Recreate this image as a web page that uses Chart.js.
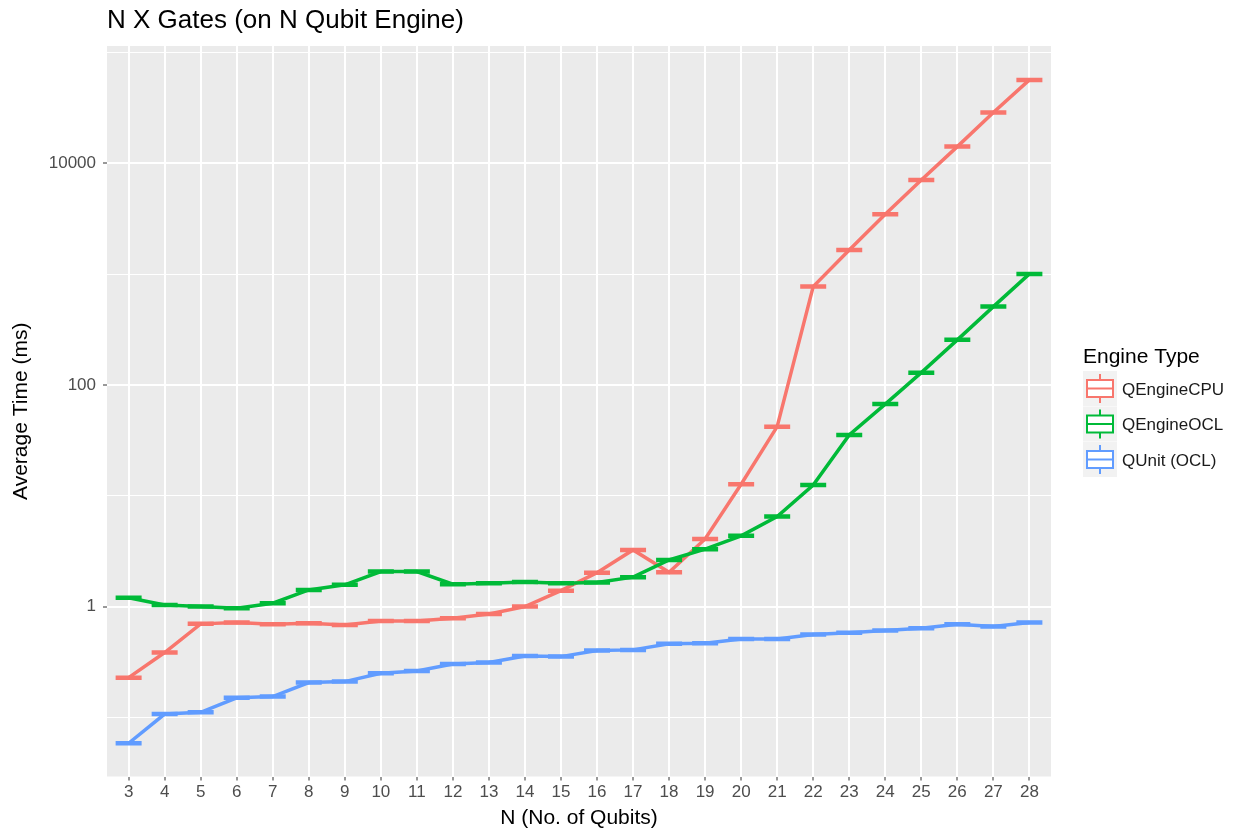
<!DOCTYPE html>
<html lang="en">
<head>
    <meta charset="UTF-8">
    <title>N X Gates (on N Qubit Engine)</title>
    <style>
        html, body { margin: 0; padding: 0; background: #ffffff; }
        #chartBox { width: 1241px; height: 833px; }
    </style>
</head>
<body>

<div id="chartBox">
    <canvas id="myChart" width="1241" height="833"></canvas>
</div>

<script src="https://cdn.jsdelivr.net/npm/chart.js@4/dist/chart.umd.min.js"></script>
<script>
    // qubit counts on the x axis
    var qubits = [3, 4, 5, 6, 7, 8, 9, 10, 11, 12, 13, 14, 15, 16, 17, 18, 19, 20, 21, 22, 23, 24, 25, 26, 27, 28];

    // average time in ms
    var cpuTimes = [0.228, 0.384, 0.697, 0.716, 0.692, 0.707, 0.682, 0.741, 0.741, 0.784, 0.857, 0.998, 1.39,
        2.02, 3.24, 2.04, 4.07, 12.7, 42.0, 771, 1652, 3473, 7080, 14150, 28700, 56600];
    var oclTimes = [1.20, 1.03, 1.0, 0.965, 1.07, 1.41, 1.57, 2.07, 2.07, 1.59, 1.62, 1.66, 1.62,
        1.65, 1.84, 2.63, 3.29, 4.34, 6.48, 12.5, 35.4, 67.1, 129, 255, 509, 1004];
    var qunitTimes = [0.0583, 0.107, 0.111, 0.150, 0.154, 0.206, 0.210, 0.250, 0.262, 0.302, 0.312, 0.358, 0.353,
        0.400, 0.406, 0.460, 0.466, 0.510, 0.510, 0.558, 0.581, 0.606, 0.637, 0.692, 0.659, 0.716];

    var engineNames = ['QEngineCPU', 'QEngineOCL', 'QUnit (OCL)'];
    var engineColors = ['#F8766D', '#00BA38', '#619CFF'];

    // log axis: grid at every decade, labels only on every other one
    var yTicks = [0.1, 1, 10, 100, 1000, 10000, 100000];
    var yLabelled = [1, 100, 10000];

    var FONT = '"Liberation Sans", Arial, Helvetica, sans-serif';

    function toPoints(values) {
        return qubits.map(function (n, i) { return { x: n, y: values[i] }; });
    }

    function makeSet(i, values) {
        return {
            label: engineNames[i],
            data: toPoints(values),
            borderColor: engineColors[i],
            backgroundColor: engineColors[i],
            borderWidth: 3.5,
            pointStyle: 'line',
            pointRadius: 13,
            pointBorderWidth: 4.5,
            pointBorderColor: engineColors[i],
            tension: 0,
            order: 3 - i
        };
    }

    // grey panel, title and ggplot-like legend
    var ggPlugin = {
        id: 'ggLook',
        beforeDraw: function (chart) {
            var ctx = chart.ctx, a = chart.chartArea;
            ctx.save();
            ctx.fillStyle = '#EBEBEB';
            ctx.fillRect(a.left, a.top, a.right - a.left, a.bottom - a.top);
            ctx.restore();
        },
        afterDraw: function (chart) {
            var ctx = chart.ctx, a = chart.chartArea;
            ctx.save();
            ctx.textBaseline = 'alphabetic';
            ctx.textAlign = 'left';

            ctx.fillStyle = '#000000';
            ctx.font = '26px ' + FONT;
            ctx.fillText('N X Gates (on N Qubit Engine)', a.left, 28);

            var lx = 1083;
            ctx.font = '21px ' + FONT;
            ctx.fillText('Engine Type', lx, 363);

            chart.data.datasets.forEach(function (ds, i) {
                var top = 371 + i * 35.5;
                var cx = lx + 17;
                ctx.fillStyle = '#F2F2F2';
                ctx.fillRect(lx, top, 34, 35);

                ctx.strokeStyle = ds.borderColor;
                ctx.lineWidth = 2;
                ctx.beginPath();
                ctx.moveTo(cx, top + 3);
                ctx.lineTo(cx, top + 32);
                ctx.stroke();

                ctx.fillStyle = '#ffffff';
                ctx.fillRect(lx + 4, top + 9, 26, 17);
                ctx.strokeRect(lx + 4, top + 9, 26, 17);
                ctx.beginPath();
                ctx.moveTo(lx + 4, top + 17.5);
                ctx.lineTo(lx + 30, top + 17.5);
                ctx.stroke();

                ctx.fillStyle = '#1A1A1A';
                ctx.font = '17px ' + FONT;
                ctx.fillText(ds.label, lx + 39, top + 23.5);
            });
            ctx.restore();
        }
    };

    var ctx = document.getElementById('myChart').getContext('2d');
    var myChart = new Chart(ctx, {
        type: 'line',
        data: {
            datasets: [makeSet(0, cpuTimes), makeSet(1, oclTimes), makeSet(2, qunitTimes)]
        },
        options: {
            responsive: false,
            animation: false,
            events: [],
            layout: { padding: { top: 46, right: 190, bottom: 0, left: 0 } },
            plugins: {
                legend: { display: false },
                tooltip: { enabled: false }
            },
            scales: {
                x: {
                    type: 'linear',
                    min: 2.4,
                    max: 28.6,
                    afterBuildTicks: function (scale) {
                        scale.ticks = qubits.map(function (n) { return { value: n }; });
                    },
                    afterFit: function (scale) { scale.height = 56.5; },
                    border: { display: false },
                    grid: {
                        color: '#ffffff',
                        lineWidth: 2,
                        tickLength: 4,
                        tickColor: '#333333',
                        tickWidth: 1
                    },
                    ticks: {
                        autoSkip: false,
                        maxRotation: 0,
                        padding: 2,
                        color: '#4D4D4D',
                        font: { family: FONT, size: 17 },
                        callback: function (v) { return String(v); }
                    },
                    title: {
                        display: true,
                        text: 'N (No. of Qubits)',
                        color: '#000000',
                        font: { family: FONT, size: 21 },
                        padding: { top: 0, bottom: 2 }
                    }
                },
                y: {
                    type: 'logarithmic',
                    min: 0.02922,
                    max: 114500,
                    bounds: 'data',
                    afterBuildTicks: function (scale) {
                        scale.ticks = yTicks.map(function (v) { return { value: v }; });
                    },
                    afterFit: function (scale) { scale.width = 107; },
                    border: { display: false },
                    grid: {
                        color: '#ffffff',
                        lineWidth: function (c) {
                            return yLabelled.indexOf(c.tick.value) >= 0 ? 2 : 1;
                        },
                        tickLength: 4,
                        tickColor: function (c) {
                            return yLabelled.indexOf(c.tick.value) >= 0 ? '#333333' : 'rgba(0,0,0,0)';
                        },
                        tickWidth: 1
                    },
                    ticks: {
                        padding: 7,
                        color: '#4D4D4D',
                        font: { family: FONT, size: 17 },
                        callback: function (v) {
                            return yLabelled.indexOf(v) >= 0 ? String(v) : '';
                        }
                    },
                    title: {
                        display: true,
                        text: 'Average Time (ms)',
                        color: '#000000',
                        font: { family: FONT, size: 21 },
                        padding: { top: 9, bottom: 0 }
                    }
                }
            }
        },
        plugins: [ggPlugin]
    });
</script>
</body>
</html>
